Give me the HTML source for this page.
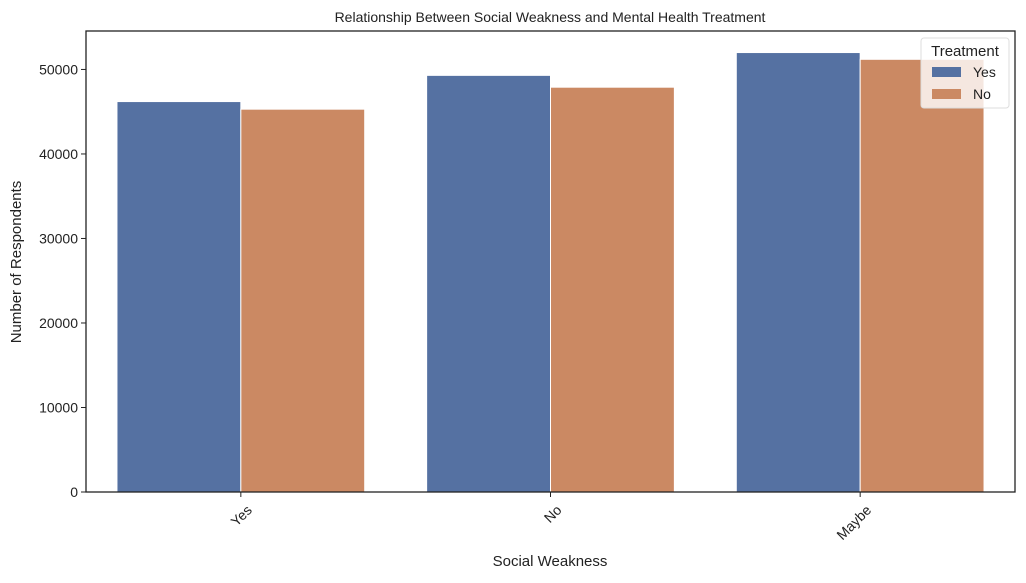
<!DOCTYPE html>
<html><head><meta charset="utf-8"><style>
body{margin:0;background:#fff;}
svg text{font-family:"Liberation Sans",sans-serif;fill:#222;}
</style></head><body>
<svg id="chart" width="1026" height="578" xmlns="http://www.w3.org/2000/svg">
<text x="550" y="22" font-size="14" text-anchor="middle">Relationship Between Social Weakness and Mental Health Treatment</text>
<g id="bars"></g>
<g id="axes"></g>
<text x="550" y="566" font-size="15" text-anchor="middle">Social Weakness</text>
<text transform="translate(21,262) rotate(-90)" font-size="15" text-anchor="middle">Number of Respondents</text>
<g>
<rect x="921" y="38" width="88" height="70" rx="3" fill="#fff" fill-opacity="0.8" stroke="#ddd"/>
<text x="965" y="56" font-size="15" text-anchor="middle">Treatment</text>
<rect x="932" y="67" width="29" height="10" fill="#5571a2"/>
<text x="973" y="77" font-size="14">Yes</text>
<rect x="932" y="89" width="29" height="10" fill="#cb8963"/>
<text x="973" y="99" font-size="14">No</text>
</g>
</svg>
<script>
const categories=["Yes","No","Maybe"];
const seriesNames=["Yes","No"];
const yesValues=[46200,49300,52000];
const noValues=[45300,47900,51200];
const yTicks=[0,10000,20000,30000,40000,50000];
const L=86,R=1015,T=31,B=492,YMAX=54550;
const ns="http://www.w3.org/2000/svg";
const xs=i=>L+(i+0.5)*(R-L)/categories.length;
const ys=v=>B-v*(B-T)/YMAX;
const bw=0.4*(R-L)/categories.length;
const bars=document.getElementById('bars'),axes=document.getElementById('axes');
function mk(t,a,p){const e=document.createElementNS(ns,t);for(const k in a)e.setAttribute(k,a[k]);p.appendChild(e);return e;}
[yesValues,noValues].forEach((vals,s)=>{
  vals.forEach((v,i)=>{
    const r=mk('rect',{x:xs(i)-bw+s*bw,y:ys(v),width:bw,height:B-ys(v),fill:s?'#cb8963':'#5571a2',stroke:'#fff','stroke-width':1},bars);
    
    
  });
});
const frame=mk('rect',{x:L,y:T,width:R-L,height:B-T,fill:'none',stroke:'#222','stroke-width':1.3},axes);


yTicks.forEach(v=>{
  mk('line',{x1:L-5,x2:L,y1:ys(v),y2:ys(v),stroke:'#222'},axes);
  const t=mk('text',{x:L-8,y:ys(v)+5,'font-size':14,'text-anchor':'end'},axes);
  t.textContent=v;
  
  
});
categories.forEach((c,i)=>{
  mk('line',{x1:xs(i),x2:xs(i),y1:B,y2:B+5,stroke:'#222'},axes);
  const t=mk('text',{'font-size':14,'text-anchor':'end',transform:`translate(${xs(i)+12},${B+19}) rotate(-45)`},axes);
  t.textContent=c;
  
  
});
</script>
</body></html>
